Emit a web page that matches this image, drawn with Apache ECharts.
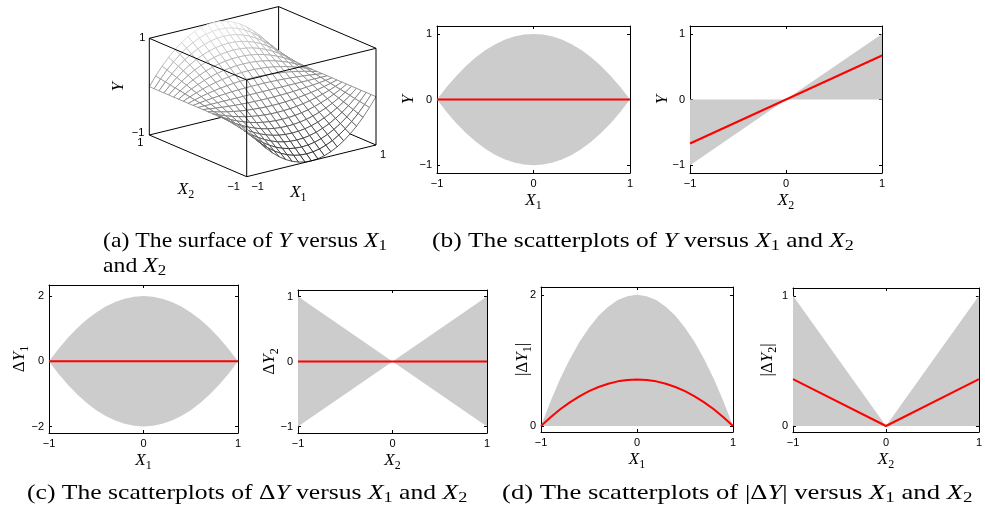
<!DOCTYPE html>
<html>
<head>
<meta charset="utf-8">
<script src="https://cdn.jsdelivr.net/npm/echarts@6/dist/echarts.min.js"></script>
<style>html,body{margin:0;padding:0;background:#fff}#main{width:985px;height:514px}</style>
</head>
<body>
<div id="main"></div>
<script>
// ---------------- data ----------------
const x1Grid = [-1, -0.9, -0.8, -0.7, -0.6, -0.5, -0.4, -0.3, -0.2, -0.1, 0, 0.1, 0.2, 0.3, 0.4, 0.5, 0.6, 0.7, 0.8, 0.9, 1];
const x2Pts = [-1, 0, 1];
const meanX = [-1, 1];
const tickX = [-1, 0, 1];

// (b) Y versus X1 : grey band and red mean
const yUpperX1 = [0, 0.19, 0.36, 0.51, 0.64, 0.75, 0.84, 0.91, 0.96, 0.99, 1, 0.99, 0.96, 0.91, 0.84, 0.75, 0.64, 0.51, 0.36, 0.19, 0];
const yLowerX1 = [0, -0.19, -0.36, -0.51, -0.64, -0.75, -0.84, -0.91, -0.96, -0.99, -1, -0.99, -0.96, -0.91, -0.84, -0.75, -0.64, -0.51, -0.36, -0.19, 0];
const yMeanX1 = [0, 0];
// (b) Y versus X2
const yUpperX2 = [0, 0, 1];
const yLowerX2 = [-1, 0, 0];
const yMeanX2 = [-0.67, 0, 0.67];
// (c) dY1 versus X1
const dY1Upper = [0, 0.38, 0.72, 1.02, 1.28, 1.5, 1.68, 1.82, 1.92, 1.98, 2, 1.98, 1.92, 1.82, 1.68, 1.5, 1.28, 1.02, 0.72, 0.38, 0];
const dY1Lower = [0, -0.38, -0.72, -1.02, -1.28, -1.5, -1.68, -1.82, -1.92, -1.98, -2, -1.98, -1.92, -1.82, -1.68, -1.5, -1.28, -1.02, -0.72, -0.38, 0];
const dY1Mean = [0, 0];
// (c) dY2 versus X2
const dY2Upper = [1, 0, 1];
const dY2Lower = [-1, 0, -1];
const dY2Mean = [0, 0, 0];
// (d) |dY1| versus X1
const absDY1Upper = [0, 0.38, 0.72, 1.02, 1.28, 1.5, 1.68, 1.82, 1.92, 1.98, 2, 1.98, 1.92, 1.82, 1.68, 1.5, 1.28, 1.02, 0.72, 0.38, 0];
const absDY1Mean = [0, 0.135, 0.256, 0.362, 0.454, 0.533, 0.596, 0.646, 0.682, 0.703, 0.71, 0.703, 0.682, 0.646, 0.596, 0.533, 0.454, 0.362, 0.256, 0.135, 0];
// (d) |dY2| versus X2
const absDY2Upper = [1, 0, 1];
const absDY2Mean = [0.36, 0, 0.36];

// (a) surface: mesh nodes along X1 and X2, and height of the X2 = 1 slice along X1
const surfaceX1 = [-1, -0.9, -0.8, -0.7, -0.6, -0.5, -0.4, -0.3, -0.2, -0.1, 0, 0.1, 0.2, 0.3, 0.4, 0.5, 0.6, 0.7, 0.8, 0.9, 1];
const surfaceX2 = [-1, -0.9, -0.8, -0.7, -0.6, -0.5, -0.4, -0.3, -0.2, -0.1, 0, 0.1, 0.2, 0.3, 0.4, 0.5, 0.6, 0.7, 0.8, 0.9, 1];
const surfaceProfile = [0, 0.19, 0.36, 0.51, 0.64, 0.75, 0.84, 0.91, 0.96, 0.99, 1, 0.99, 0.96, 0.91, 0.84, 0.75, 0.64, 0.51, 0.36, 0.19, 0];

// ---------------- styling ----------------
const GREY = '#cccccc';
const RED = '#ff0000';
const SERIF = 'Liberation Serif';
const SANS = 'Liberation Sans';
const minus = v => String(v).replace('-', '\u2212');
const zip = (xs, ys) => xs.map((x, i) => [x, ys[i]]);

const nameRich = {
  i: {fontFamily: SERIF, fontStyle: 'italic', fontSize: 17, lineHeight: 22},
  r: {fontFamily: SERIF, fontSize: 17, lineHeight: 22},
  s: {fontFamily: SERIF, fontSize: 12, lineHeight: 12, verticalAlign: 'bottom'}
};

const panels = [
  {grid: {left: 437, top: 26, width: 193, height: 147}, yMin: -1.12, yMax: 1.12, yTicks: [-1, 0, 1],
   xName: '{i|X}{s|1}', yName: '{i|Y}', yGap: 17, xs: x1Grid, up: yUpperX1, lo: yLowerX1, mx: meanX, my: yMeanX1},
  {grid: {left: 690, top: 26, width: 192, height: 147}, yMin: -1.12, yMax: 1.12, yTicks: [-1, 0, 1],
   xName: '{i|X}{s|2}', yName: '{i|Y}', yGap: 16, xs: x2Pts, up: yUpperX2, lo: yLowerX2, mx: x2Pts, my: yMeanX2},
  {grid: {left: 49, top: 285, width: 189, height: 148}, yMin: -2.2, yMax: 2.34, yTicks: [-2, 0, 2],
   xName: '{i|X}{s|1}', yName: '{r|\u0394}{i|Y}{s|1}', yGap: 18, xs: x1Grid, up: dY1Upper, lo: dY1Lower, mx: meanX, my: dY1Mean},
  {grid: {left: 298, top: 290, width: 189, height: 143}, yMin: -1.1, yMax: 1.1, yTicks: [-1, 0, 1],
   xName: '{i|X}{s|2}', yName: '{r|\u0394}{i|Y}{s|2}', yGap: 17, xs: x2Pts, up: dY2Upper, lo: dY2Lower, mx: x2Pts, my: dY2Mean},
  {grid: {left: 541, top: 287, width: 192, height: 145}, yMin: -0.09, yMax: 2.12, yTicks: [0, 2],
   xName: '{i|X}{s|1}', yName: '{r||\u0394}{i|Y}{s|1}{r||}', yGap: 7, xs: x1Grid, up: absDY1Upper, lo: null, mx: x1Grid, my: absDY1Mean},
  {grid: {left: 793, top: 288, width: 191, height: 144}, yMin: -0.046, yMax: 1.06, yTicks: [0, 1],
   xName: '{i|X}{s|2}', yName: '{r||\u0394}{i|Y}{s|2}{r||}', yGap: 14, xs: x2Pts, up: absDY2Upper, lo: null, mx: x2Pts, my: absDY2Mean}
];

const grids = [{left: 0, top: 0, width: 985, height: 514, show: false}];
const xAxes = [{gridIndex: 0, type: 'value', min: 0, max: 985, show: false}];
const yAxes = [{gridIndex: 0, type: 'value', min: 0, max: 514, inverse: true, show: false}];
const series = [];

const lineAx = {show: true, onZero: false, lineStyle: {color: '#000', width: 1}};
panels.forEach((p, k) => {
  const g = k + 1;
  grids.push(p.grid);
  xAxes.push({
    gridIndex: g, type: 'value', min: -1, max: 1, position: 'bottom',
    axisLine: lineAx, splitLine: {show: false},
    axisTick: {inside: true, length: 3, customValues: tickX, lineStyle: {color: '#000'}},
    axisLabel: {customValues: tickX, formatter: minus, color: '#000', fontFamily: SANS, fontSize: 11, margin: 5},
    name: p.xName, nameLocation: 'middle', nameGap: 17, nameMoveOverlap: false,
    nameTextStyle: {color: '#000', rich: nameRich}
  });
  xAxes.push({
    gridIndex: g, type: 'value', min: -1, max: 1, position: 'top',
    axisLine: lineAx, splitLine: {show: false},
    axisTick: {inside: true, length: 3, customValues: tickX, lineStyle: {color: '#000'}},
    axisLabel: {show: false}
  });
  yAxes.push({
    gridIndex: g, type: 'value', min: p.yMin, max: p.yMax, position: 'left',
    axisLine: lineAx, splitLine: {show: false},
    axisTick: {inside: true, length: 3, customValues: p.yTicks, lineStyle: {color: '#000'}},
    axisLabel: {customValues: p.yTicks, formatter: minus, color: '#000', fontFamily: SANS, fontSize: 11, margin: 5},
    name: p.yName, nameLocation: 'middle', nameGap: p.yGap, nameRotate: 90, nameMoveOverlap: false,
    nameTextStyle: {color: '#000', rich: nameRich}
  });
  yAxes.push({
    gridIndex: g, type: 'value', min: p.yMin, max: p.yMax, position: 'right',
    axisLine: lineAx, splitLine: {show: false},
    axisTick: {inside: true, length: 3, customValues: p.yTicks, lineStyle: {color: '#000'}},
    axisLabel: {show: false}
  });
  const xi = 1 + k * 2, yi = 1 + k * 2;
  const band = d => ({
    type: 'line', xAxisIndex: xi, yAxisIndex: yi, data: d, symbol: 'none', silent: true,
    lineStyle: {width: 0, opacity: 0}, areaStyle: {color: GREY, opacity: 1}, z: 2
  });
  series.push(band(zip(p.xs, p.up)));
  if (p.lo) series.push(band(zip(p.xs, p.lo)));
  series.push({
    type: 'line', xAxisIndex: xi, yAxisIndex: yi, data: zip(p.mx, p.my), symbol: 'none', silent: true,
    lineStyle: {color: RED, width: 2}, z: 5
  });
});

// ---------------- (a) 3-D surface, projected onto a hidden full-page grid ----------------
const BOX = {origin: [246.7, 176.7], e1: [129.3, -31.7], e2: [-97.4, -41.7], e3: [0, -96.7]};
const R3 = {x1: [-1, 1], x2: [-1, 1], y: [-1, 1]};
const tpar = (v, r) => (v - r[0]) / (r[1] - r[0]);
function proj3(x1, x2, y) {
  const a = tpar(x1, R3.x1), b = tpar(x2, R3.x2), c = tpar(y, R3.y);
  return [BOX.origin[0] + a * BOX.e1[0] + b * BOX.e2[0] + c * BOX.e3[0],
          BOX.origin[1] + a * BOX.e1[1] + b * BOX.e2[1] + c * BOX.e3[1]];
}
// viewing direction (null vector of the projection)
const vx = [BOX.e1[0], BOX.e2[0], BOX.e3[0]], vy = [BOX.e1[1], BOX.e2[1], BOX.e3[1]];
const VIEW = [vx[1] * vy[2] - vx[2] * vy[1], vx[2] * vy[0] - vx[0] * vy[2], vx[0] * vy[1] - vx[1] * vy[0]];
const depth = (x1, x2, y) => VIEW[0] * tpar(x1, R3.x1) + VIEW[1] * tpar(x2, R3.x2) + VIEW[2] * tpar(y, R3.y);

const surfY = (i, j) => surfaceX2[j] * surfaceProfile[i];
const faces = [];
for (let i = 0; i < surfaceX1.length - 1; i++) {
  for (let j = 0; j < surfaceX2.length - 1; j++) {
    const ys = [surfY(i, j), surfY(i + 1, j), surfY(i + 1, j + 1), surfY(i, j + 1)];
    const ym = (ys[0] + ys[1] + ys[2] + ys[3]) / 4;
    const xm1 = (surfaceX1[i] + surfaceX1[i + 1]) / 2, xm2 = (surfaceX2[j] + surfaceX2[j + 1]) / 2;
    faces.push({i, j, ys, ym, d: depth(xm1, xm2, ym)});
  }
}
faces.sort((a, b) => b.d - a.d);
const edgeGray = y => {
  const g = Math.round(20 + 215 * (y - R3.y[0]) / (R3.y[1] - R3.y[0]));
  return 'rgb(' + g + ',' + g + ',' + g + ')';
};

const boxBack = [
  [[-1, 1, -1], [1, 1, -1]], [[1, 1, -1], [1, -1, -1]], [[1, 1, -1], [1, 1, 1]],
  [[-1, 1, 1], [1, 1, 1]], [[1, 1, 1], [1, -1, 1]]
];
const boxFront = [
  [[-1, -1, -1], [1, -1, -1]], [[-1, -1, -1], [-1, 1, -1]], [[-1, -1, -1], [-1, -1, 1]],
  [[1, -1, -1], [1, -1, 1]], [[-1, 1, -1], [-1, 1, 1]],
  [[-1, -1, 1], [1, -1, 1]], [[-1, -1, 1], [-1, 1, 1]]
];
const labels3d = [
  {p: [-1, 1, 1], dx: -4, dy: 0, t: '1', align: 'right'},
  {p: [-1, 1, -1], dx: -5, dy: -2, t: '\u22121', align: 'right'},
  {p: [-1, 1, -1], dx: -9, dy: 8, t: '1', align: 'center'},
  {p: [-1, -1, -1], dx: -13, dy: 10, t: '\u22121', align: 'center'},
  {p: [-1, -1, -1], dx: 11, dy: 10, t: '\u22121', align: 'center'},
  {p: [1, -1, -1], dx: 7, dy: 10, t: '1', align: 'center'}
];
const names3d = [
  {p: [-1, 0, -1], dx: -12, dy: 34, t: '{i|X}{s|2}', rot: 0},
  {p: [0, -1, -1], dx: -13, dy: 32, t: '{i|X}{s|1}', rot: 0},
  {p: [-1, 1, 0], dx: -31, dy: 0, t: '{i|Y}', rot: Math.PI / 2}
];

function render3d(params, api) {
  const P = (v) => api.coord(proj3(v[0], v[1], v[2]));
  const children = [];
  const edge = e => {
    const a = P(e[0]), b = P(e[1]);
    return {type: 'line', shape: {x1: a[0], y1: a[1], x2: b[0], y2: b[1]}, style: {stroke: '#000', lineWidth: 1}};
  };
  boxBack.forEach(e => children.push(edge(e)));
  faces.forEach(f => {
    const pts = [
      P([surfaceX1[f.i], surfaceX2[f.j], f.ys[0]]),
      P([surfaceX1[f.i + 1], surfaceX2[f.j], f.ys[1]]),
      P([surfaceX1[f.i + 1], surfaceX2[f.j + 1], f.ys[2]]),
      P([surfaceX1[f.i], surfaceX2[f.j + 1], f.ys[3]])
    ];
    children.push({type: 'polygon', shape: {points: pts}, style: {fill: '#fff', stroke: edgeGray(f.ym), lineWidth: 0.8}});
  });
  boxFront.forEach(e => children.push(edge(e)));
  labels3d.forEach(l => {
    const a = P(l.p);
    children.push({type: 'text', x: a[0] + l.dx, y: a[1] + l.dy,
      style: {text: l.t, fill: '#000', fontFamily: SANS, fontSize: 11, align: l.align, verticalAlign: 'middle'}});
  });
  names3d.forEach(n => {
    const a = P(n.p);
    children.push({type: 'text', x: a[0] + n.dx, y: a[1] + n.dy, rotation: n.rot,
      style: {text: n.t, rich: nameRich, fill: '#000', fontFamily: SERIF, fontSize: 17, align: 'center', verticalAlign: 'middle'}});
  });
  return {type: 'group', children};
}
series.push({type: 'custom', xAxisIndex: 0, yAxisIndex: 0, data: [[0, 0]], renderItem: render3d, silent: true, z: 1});

// ---------------- captions ----------------
const capRich = {
  i: {fontFamily: SERIF, fontStyle: 'italic', fontSize: 21, lineHeight: 26},
  s: {fontFamily: SERIF, fontSize: 15, lineHeight: 15, verticalAlign: 'bottom'}
};
const captions = [
  {x: 103, y: 241, sx: 1.13, t: '(a) The surface of {i|Y} versus {i|X}{s|1}'},
  {x: 103, y: 266, sx: 1.13, t: 'and {i|X}{s|2}'},
  {x: 432, y: 241, sx: 1.21, t: '(b) The scatterplots of {i|Y} versus {i|X}{s|1} and {i|X}{s|2}'},
  {x: 27, y: 493, sx: 1.22, t: '(c) The scatterplots of \u0394{i|Y} versus {i|X}{s|1} and {i|X}{s|2}'},
  {x: 502, y: 493, sx: 1.27, t: '(d) The scatterplots of |\u0394{i|Y}| versus {i|X}{s|1} and {i|X}{s|2}'}
];

const chart = echarts.init(document.getElementById('main'), null, {renderer: 'canvas'});
chart.setOption({
  animation: false,
  backgroundColor: '#fff',
  grid: grids,
  xAxis: xAxes,
  yAxis: yAxes,
  series: series,
  graphic: captions.map(c => ({
    type: 'text', x: c.x, y: c.y, scaleX: c.sx, silent: true,
    style: {text: c.t, rich: capRich, fill: '#000', fontFamily: SERIF, fontSize: 21, lineHeight: 26,
            align: 'left', verticalAlign: 'middle'}
  }))
});
</script>
</body>
</html>
